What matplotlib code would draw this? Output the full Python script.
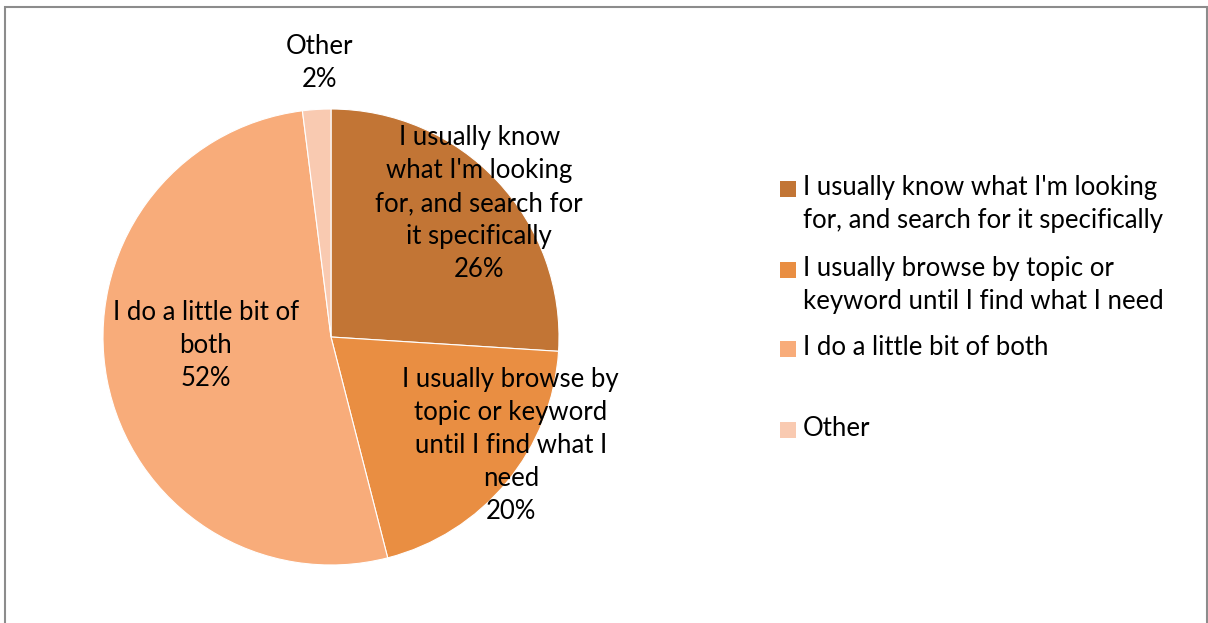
import numpy as np
import matplotlib.pyplot as plt
from matplotlib.patches import Rectangle

# data
categories = ["I usually know what I'm looking for, and search for it specifically",
              "I usually browse by topic or keyword until I find what I need",
              "I do a little bit of both",
              "Other"]
shares = [26, 20, 52, 2]
slice_labels = ["I usually know\nwhat I'm looking\nfor, and search for\nit specifically",
                "I usually browse by\ntopic or keyword\nuntil I find what I\nneed",
                "I do a little bit of\nboth",
                "Other"]
legend_labels = ["I usually know what I'm looking\nfor, and search for it specifically",
                 "I usually browse by topic or\nkeyword until I find what I need",
                 "I do a little bit of both",
                 "Other"]
colors = ["#C27535", "#E98E42", "#F8AC7A", "#F9CAB1"]

plt.rcParams['font.family'] = ['Lato', 'DejaVu Sans']
FS = 18.5
LS = 1.4

W, H = 1208, 623
fig = plt.figure(figsize=(W / 100, H / 100), dpi=100)

# outer frame
fig.patches.append(Rectangle((5 / W, -0.01), 1202 / W, (H - 7) / H + 0.01,
                             transform=fig.transFigure, fill=False,
                             edgecolor="#8c8c8c", linewidth=1.5))

cx, cy, r = 331, H - 337, 228
ax = fig.add_axes([(cx - r) / W, (cy - r) / H, 2 * r / W, 2 * r / H])
wedges, _ = ax.pie(shares, colors=colors, startangle=90, counterclock=False,
                   radius=1, wedgeprops=dict(linewidth=0.8, edgecolor="white"))
ax.set_xlim(-1, 1)
ax.set_ylim(-1, 1)
ax.set_aspect('auto')
ax.axis('off')

# label placement (angle in degrees, distance in radii)
label_pos = [(42, 0.875), (-31, 0.92), (184, 0.55), (92.5, 1.205)]
for lab, s, (ang, d) in zip(slice_labels, shares, label_pos):
    a = np.deg2rad(ang)
    ax.text(d * np.cos(a), d * np.sin(a), f"{lab}\n{s}%", ha='center', va='center',
            fontsize=FS, linespacing=LS, clip_on=False)

# legend (y = centre of first text line, in pixels from top)
first_line = [189, 270, 349, 430]
for lab, col, yc in zip(legend_labels, colors, first_line):
    fig.patches.append(Rectangle((780 / W, 1 - (yc + 8) / H), 16 / W, 16 / H,
                                 transform=fig.transFigure, facecolor=col, edgecolor='none'))
    fig.text(803 / W, 1 - (yc - 14) / H, lab, ha='left', va='top', fontsize=FS, linespacing=LS)

fig.savefig("out.png", dpi=100)
